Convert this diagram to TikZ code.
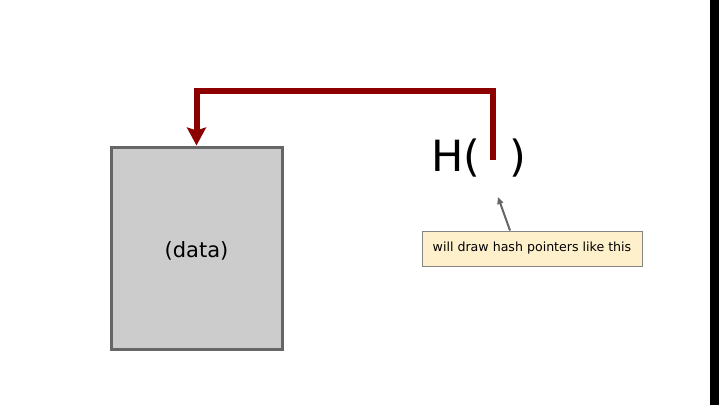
\documentclass[tikz,border=0pt]{standalone}
\usepackage{fontspec}
\setmainfont{DejaVu Sans}
\usetikzlibrary{arrows.meta}
\definecolor{ptrred}{RGB}{140,0,0}
\definecolor{boxgray}{RGB}{204,204,204}
\definecolor{edgegray}{RGB}{102,102,102}
\definecolor{noteyellow}{RGB}{255,240,204}
\begin{document}
\begin{tikzpicture}[x=1pt,y=-1pt,
  hashptr/.style={draw=ptrred, line width=6pt, -{Stealth[width=19pt,length=18pt,inset=3pt]}},
  notearrow/.style={draw=edgegray, line width=2pt, -{Triangle[width=6pt,length=7pt]}}]
\useasboundingbox (0,0) rectangle (720,405);
\fill[white] (0,0) rectangle (720,405);
\fill[black] (710,0) rectangle (719,405);
\node[draw=edgegray, fill=boxgray, line width=3pt, minimum width=171pt, minimum height=202pt, font=\fontsize{21}{24}\selectfont] (data) at (196.5,248) {};
\node[inner sep=0pt, font=\fontsize{21}{24}\selectfont] (label) at (196.5,251) {(data)};
\node[anchor=base west, inner sep=0pt, font=\fontsize{43}{48}\selectfont] (hopen) at (431,171) {H(};
\node[anchor=base west, inner sep=0pt, font=\fontsize{43}{48}\selectfont] (hclose) at (509,171) {)};
\coordinate (hp) at (493,160);
\node[draw=edgegray!80, fill=noteyellow, line width=1pt, minimum width=220pt, minimum height=35pt, font=\fontsize{12.6}{15}\selectfont] (note) at (532,248.5) {will draw hash pointers like this};
\coordinate (tip) at (498,197);
\draw[hashptr] (hp) -- ++(0,-69) -| (data.north);
\draw[notearrow] ([xshift=-22pt]note.north) -- (tip);
\end{tikzpicture}
\end{document}
